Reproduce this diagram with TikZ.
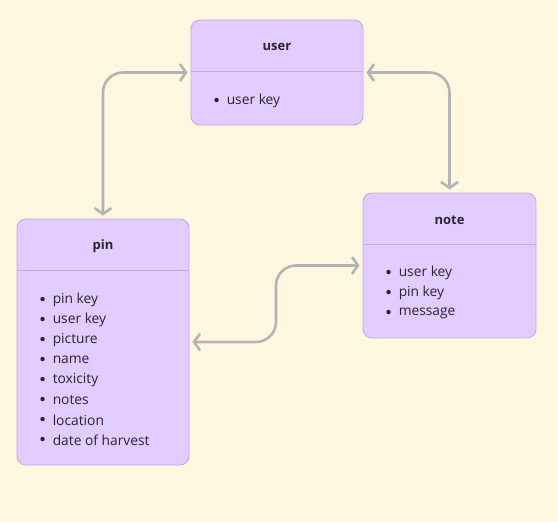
\documentclass[tikz,border=0pt]{standalone}
\usepackage{fontspec}
\setmainfont{Open Sans}
\usetikzlibrary{arrows.meta,positioning,calc}

\definecolor{bgcream}{HTML}{FFF7E0}
\definecolor{boxfill}{HTML}{E3CCFF}
\definecolor{boxline}{HTML}{C3ABE2}
\definecolor{linkgray}{HTML}{B4B4B4}
\definecolor{ink}{HTML}{2A2530}

\begin{document}
\begin{tikzpicture}[
    x=1pt, y=-1pt,
    entity/.style={rectangle, draw=boxline, fill=boxfill, rounded corners=9pt, line width=0.9pt, inner sep=0pt},
    title/.style={font=\bfseries\fontsize{13}{15}\selectfont, text=ink},
    item/.style={anchor=west, inner sep=0pt, font=\fontsize{13.8}{16}\selectfont, text=ink},
    divider/.style={draw=boxline, line width=0.9pt},
    link/.style={draw=linkgray, line width=2.6pt, rounded corners=20pt,
        {Straight Barb[length=6pt,width=17pt]}-{Straight Barb[length=6pt,width=17pt]},
        shorten <=3pt, shorten >=3pt},
]

% canvas
\fill[bgcream] (0,0) rectangle (558,522);
\useasboundingbox (0,0) rectangle (558,522);

% Entities
\node[entity, minimum width=172pt, minimum height=105pt] (user) at (277,72.5) {};
\node[entity, minimum width=172pt, minimum height=246pt] (pin) at (103,342) {};
\node[entity, minimum width=173pt, minimum height=145pt] (note) at (449.5,265.5) {};

% Titles and dividers
\foreach \ent in {user, pin, note} {
    \node[title] (\ent-title) at ($(\ent.north)+(0,27.5)$) {\ent};
    \draw[divider] ($(\ent.north west)+(0,52)$) -- ($(\ent.north east)+(0,52)$);
}

% Attributes
\foreach \txt [count=\i from 0] in {user key} {
    \fill[ink] ($(user.north west)+(26,80.5+20*\i)$) circle (2.2pt);
    \node[item] (user-item\i) at ($(user.north west)+(36,81.5+20*\i)$) {\txt};
}
\foreach \txt [count=\i from 0] in {pin key, user key, picture, name, toxicity, notes, location, date of harvest} {
    \fill[ink] ($(pin.north west)+(26,80.5+20*\i)$) circle (2.2pt);
    \node[item] (pin-item\i) at ($(pin.north west)+(36,81.5+20*\i)$) {\txt};
}
\foreach \txt [count=\i from 0] in {user key, pin key, message} {
    \fill[ink] ($(note.north west)+(26,79.5+20*\i)$) circle (2.2pt);
    \node[item] (note-item\i) at ($(note.north west)+(36,80.5+20*\i)$) {\txt};
}

% Relations
\coordinate (mid) at ($(pin.east)!0.5!(note.west)$);
\draw[link] (pin.north) |- (user.west);
\draw[link] (user.east) -| (note.north);
\draw[link] (pin.east) -- (mid |- pin.east) -- (mid |- note.west) -- (note.west);

\end{tikzpicture}
\end{document}
